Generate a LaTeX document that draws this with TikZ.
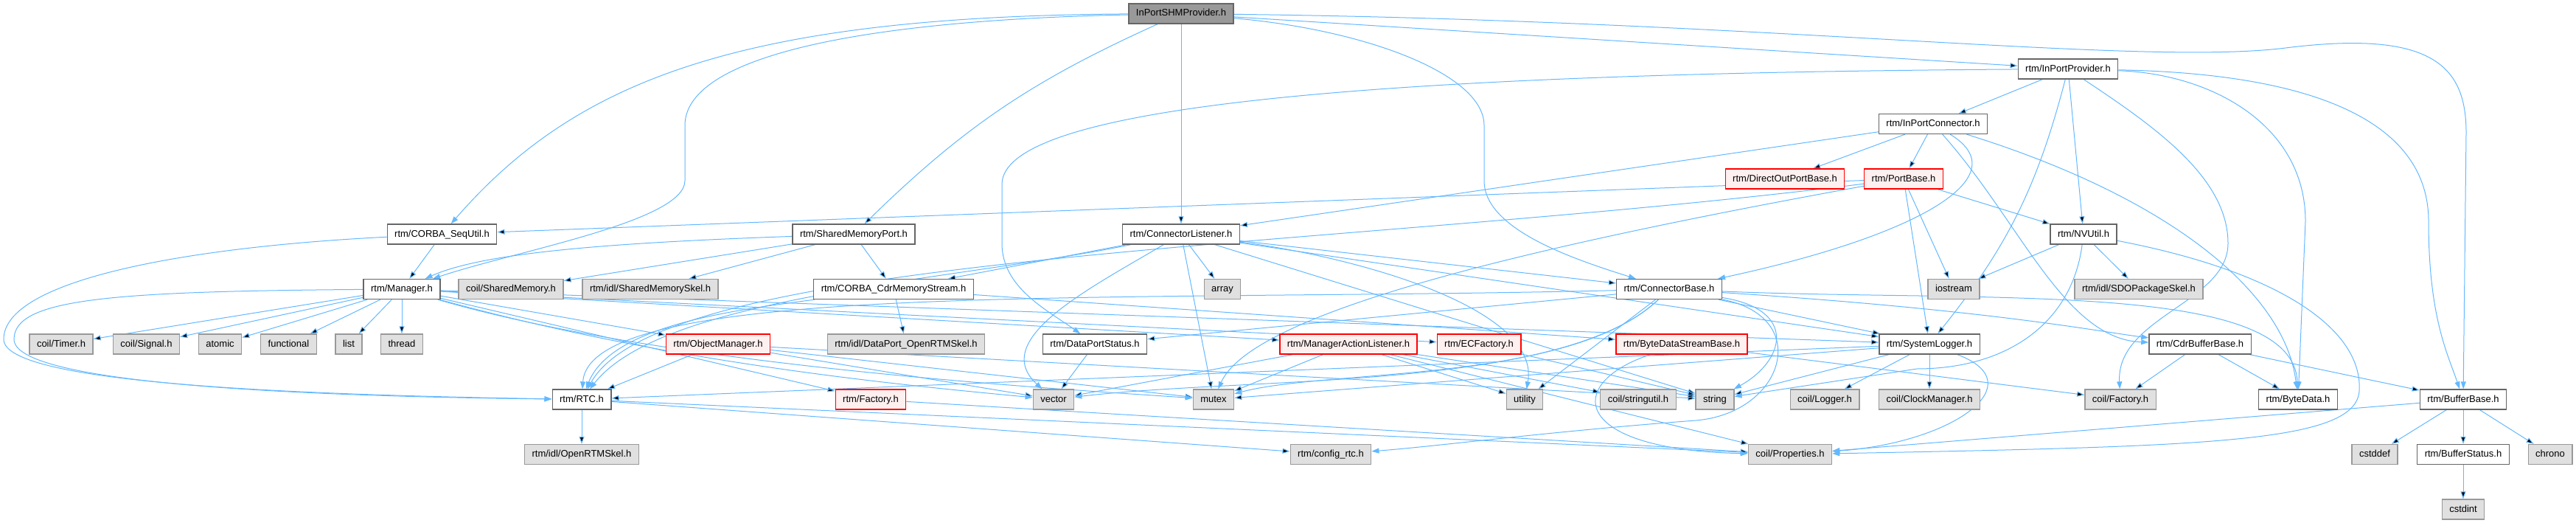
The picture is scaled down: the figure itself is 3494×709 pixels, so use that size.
\documentclass[tikz,border=0pt]{standalone}
\usepackage{fontspec}
\setmainfont{Liberation Sans}
\usetikzlibrary{arrows.meta, backgrounds}

\definecolor{edgeblue}{HTML}{63B8FF}
\definecolor{rootgray}{HTML}{999999}
\definecolor{boxgray}{HTML}{666666}
\definecolor{sysfill}{HTML}{E0E0E0}
\definecolor{sysline}{HTML}{999999}
\definecolor{cutfill}{HTML}{FFF0F0}

\begin{document}
\begin{tikzpicture}[x=1pt, y=-1pt, ->, >={Triangle[length=10pt, width=7pt]},
    hdr/.style={draw=boxgray, fill=white, line width=1.3pt, minimum height=27pt,
                inner xsep=10pt, inner ysep=0pt, text height=9.5pt, text depth=2.5pt,
                font=\fontsize{13}{15}\selectfont},
    roothdr/.style={hdr, fill=rootgray},
    syshdr/.style={hdr, draw=sysline, fill=sysfill},
    cuthdr/.style={hdr, draw=red, fill=cutfill},
    link/.style={draw=edgeblue, line width=1pt}]
    \useasboundingbox (0,0) rectangle (3494,709);

    % rows of header files
    \node[roothdr] (shm)       at (1602,18.5)  {InPortSHMProvider.h};
    \node[hdr]     (provider)  at (2805,93.5)  {rtm/InPortProvider.h};
    \node[hdr]     (inconn)    at (2622,168)   {rtm/InPortConnector.h};
    \node[cuthdr]  (directout) at (2421,242.5) {rtm/DirectOutPortBase.h};
    \node[cuthdr]  (portbase)  at (2582,242.5) {rtm/PortBase.h};
    \node[hdr]     (sequtil)   at (599.5,317.5) {rtm/CORBA\_SeqUtil.h};
    \node[hdr]     (shmport)   at (1158,317.5) {rtm/SharedMemoryPort.h};
    \node[hdr]     (listener)  at (1602,317.5) {rtm/ConnectorListener.h};
    \node[hdr]     (nvutil)    at (2826,317.5) {rtm/NVUtil.h};
    \node[hdr]     (manager)   at (545,392)    {rtm/Manager.h};
    \node[syshdr]  (shmem)     at (693,392)    {coil/SharedMemory.h};
    \node[syshdr]  (shmskel)   at (882,392)    {rtm/idl/SharedMemorySkel.h};
    \node[hdr]     (cdrstream) at (1212,392)   {rtm/CORBA\_CdrMemoryStream.h};
    \node[syshdr]  (array)     at (1658,392)   {array};
    \node[hdr]     (connbase)  at (2264,392)   {rtm/ConnectorBase.h};
    \node[syshdr]  (iostream)  at (2650,392)   {iostream};
    \node[syshdr]  (sdoskel)   at (2901,392)   {rtm/idl/SDOPackageSkel.h};
    \node[syshdr]  (timer)     at (83,466.5)   {coil/Timer.h};
    \node[syshdr]  (signal)    at (198.5,466.5) {coil/Signal.h};
    \node[syshdr]  (atomic)    at (298.5,466.5) {atomic};
    \node[syshdr]  (functional) at (391.5,466.5) {functional};
    \node[syshdr]  (list)      at (473,466.5)  {list};
    \node[syshdr]  (thread)    at (545,466.5)  {thread};
    \node[cuthdr]  (objmgr)    at (974,466.5)  {rtm/ObjectManager.h};
    \node[syshdr]  (dpskel)    at (1229,466.5) {rtm/idl/DataPort\_OpenRTMSkel.h};
    \node[hdr]     (dpstatus)  at (1485,466.5) {rtm/DataPortStatus.h};
    \node[cuthdr]  (malistener) at (1829,466.5) {rtm/ManagerActionListener.h};
    \node[cuthdr]  (ecfactory) at (2006,466.5) {rtm/ECFactory.h};
    \node[cuthdr]  (bdstream)  at (2281,466.5) {rtm/ByteDataStreamBase.h};
    \node[hdr]     (syslog)    at (2617,466.5) {rtm/SystemLogger.h};
    \node[hdr]     (cdrbuf)    at (2984,466.5) {rtm/CdrBufferBase.h};
    \node[hdr]     (rtc)       at (789,541.5)  {rtm/RTC.h};
    \node[cuthdr]  (factory)   at (1181,541.5) {rtm/Factory.h};
    \node[syshdr]  (vector)    at (1429,541.5) {vector};
    \node[syshdr]  (mutex)     at (1646,541.5) {mutex};
    \node[syshdr]  (utility)   at (2068,541.5) {utility};
    \node[syshdr]  (stringutil) at (2222,541.5) {coil/stringutil.h};
    \node[syshdr]  (string)    at (2326,541.5) {string};
    \node[syshdr]  (logger)    at (2475,541.5) {coil/Logger.h};
    \node[syshdr]  (clock)     at (2617,541.5) {coil/ClockManager.h};
    \node[syshdr]  (cfactory)  at (2876,541.5) {coil/Factory.h};
    \node[hdr]     (bytedata)  at (3117,541.5) {rtm/ByteData.h};
    \node[hdr]     (bufbase)   at (3341,541.5) {rtm/BufferBase.h};
    \node[syshdr]  (openrtm)   at (789,616)    {rtm/idl/OpenRTMSkel.h};
    \node[syshdr]  (config)    at (1805,616)   {rtm/config\_rtc.h};
    \node[syshdr]  (props)     at (2428,616)   {coil/Properties.h};
    \node[syshdr]  (cstddef)   at (3221,616)   {cstddef};
    \node[hdr]     (bufstatus) at (3341,616)   {rtm/BufferStatus.h};
    \node[syshdr]  (chrono)    at (3459,616)   {chrono};
    \node[syshdr]  (cstdint)   at (3341,690.5) {cstdint};

    \begin{scope}[on background layer]
    \draw[link]
        (shm) edge (listener)
        (shm) edge (provider)
        (shm) edge[bend right=10] (shmport)
        (provider) edge (inconn)
        (provider) edge (nvutil)
        (provider) edge[bend left=12] (syslog)
        (inconn) edge (directout)
        (inconn) edge (portbase)
        (inconn) edge (listener)
        (portbase) edge (sequtil)
        (portbase) edge (syslog)
        (portbase) edge (nvutil)
        (portbase) edge (iostream)
        (sequtil) edge (manager)
        (shmport) edge (shmem)
        (shmport) edge (shmskel)
        (shmport) edge (cdrstream)
        (listener) edge (cdrstream)
        (listener) edge (array)
        (listener) edge (mutex)
        (listener) edge (connbase)
        (listener) edge (syslog)
        (listener) edge (string)
        (nvutil) edge (iostream)
        (nvutil) edge (sdoskel)
        (manager) edge (timer)
        (manager) edge (signal)
        (manager) edge (atomic)
        (manager) edge (functional)
        (manager) edge (list)
        (manager) edge (thread)
        (manager) edge (objmgr)
        (manager) edge (factory)
        (manager) edge (malistener)
        (manager) edge (ecfactory)
        (manager) edge (syslog)
        (cdrstream) edge (dpskel)
        (cdrstream) edge (bdstream)
        (connbase) edge (dpstatus)
        (connbase) edge (utility)
        (connbase) edge (syslog)
        (objmgr) edge (rtc)
        (objmgr) edge (vector)
        (objmgr) edge (mutex)
        (objmgr) edge (string)
        (dpstatus) edge (vector)
        (malistener) edge (vector)
        (malistener) edge (mutex)
        (malistener) edge (utility)
        (malistener) edge (stringutil)
        (malistener) edge (string)
        (malistener) edge (props)
        (ecfactory) edge (string)
        (bdstream) edge (cfactory)
        (syslog) edge (logger)
        (syslog) edge (clock)
        (syslog) edge (string)
        (syslog) edge (mutex)
        (syslog) edge (rtc)
        (cdrbuf) edge (cfactory)
        (cdrbuf) edge (bytedata)
        (cdrbuf) edge (bufbase)
        (rtc) edge (openrtm)
        (rtc) edge (config)
        (rtc) edge (props)
        (factory) edge (props)
        (bufbase) edge (props)
        (bufbase) edge (cstddef)
        (bufbase) edge (bufstatus)
        (bufbase) edge (chrono)
        (bufstatus) edge (cstdint);

    % longer routed includes
    \draw[link] (shm) .. controls (1000,22) and (780,110) .. (sequtil);
    \draw[link] (shm) .. controls (1150,28) and (929,80) .. (929,170) -- (929,245) .. controls (929,300) and (700,340) .. (manager);
    \draw[link] (shm) .. controls (1850,40) and (2013,100) .. (2013,170) -- (2013,245) .. controls (2013,310) and (2130,350) .. (connbase);
    \draw[link] (shm) .. controls (2400,28) and (2900,90) .. (3100,65) .. controls (3300,40) and (3345,90) .. (3345,180) -- (bufbase);
    \draw[link] (provider) .. controls (1800,100) and (1359,150) .. (1359,250) -- (1359,330) .. controls (1359,390) and (1420,420) .. (dpstatus);
    \draw[link] (provider) .. controls (3150,100) and (3294,170) .. (3294,300) .. controls (3294,430) and (3320,480) .. (bufbase);
    \draw[link] (provider) .. controls (3000,100) and (3127,170) .. (3127,300) -- (bytedata);
    \draw[link] (provider) .. controls (2920,170) and (3022,240) .. (3022,330) .. controls (3022,410) and (2870,430) .. (cfactory);
    \draw[link] (inconn) .. controls (2740,240) and (2600,320) .. (connbase);
    \draw[link] (inconn) .. controls (2950,270) and (3100,400) .. (bytedata);
    \draw[link] (inconn) .. controls (2740,300) and (2800,460) .. (cdrbuf);
    \draw[link] (portbase) .. controls (1800,340) and (900,340) .. (rtc);
    \draw[link] (portbase) .. controls (2100,330) and (1700,420) .. (mutex);
    \draw[link] (sequtil) .. controls (250,335) and (5,380) .. (5,460) .. controls (5,520) and (400,535) .. (rtc);
    \draw[link] (manager) .. controls (150,395) and (19,405) .. (19,460) .. controls (19,520) and (400,537) .. (rtc);
    \draw[link] (shmport) .. controls (800,330) and (650,345) .. (manager);
    \draw[link] (listener) .. controls (1480,390) and (1340,460) .. (vector);
    \draw[link] (listener) .. controls (1300,380) and (900,400) .. (rtc);
    \draw[link] (listener) .. controls (1850,350) and (2090,420) .. (utility);
    \draw[link] (nvutil) .. controls (2810,440) and (2720,500) .. (2600,500) -- (string);
    \draw[link] (nvutil) .. controls (3100,370) and (3205,450) .. (3200,530) .. controls (3195,600) and (3000,605) .. (props);
    \draw[link] (manager) .. controls (900,490) and (1200,520) .. (vector);
    \draw[link] (manager) .. controls (900,495) and (1400,525) .. (mutex);
    \draw[link] (cdrstream) .. controls (1000,420) and (830,440) .. (rtc);
    \draw[link] (connbase) .. controls (1500,410) and (800,380) .. (rtc);
    \draw[link] (connbase) .. controls (2120,530) and (1700,510) .. (vector);
    \draw[link] (connbase) .. controls (2130,520) and (1800,500) .. (mutex);
    \draw[link] (connbase) .. controls (2700,410) and (3110,380) .. (bytedata);
    \draw[link] (connbase) .. controls (2700,420) and (2850,450) .. (cdrbuf);
    \draw[link] (connbase) .. controls (2440,420) and (2420,490) .. (string);
    \draw[link] (connbase) .. controls (2460,430) and (2420,560) .. (2300,570) .. controls (2100,585) and (1950,605) .. (config);
    \draw[link] (syslog) .. controls (2760,520) and (2650,600) .. (props);
    \draw[link] (bdstream) .. controls (2120,520) and (2130,610) .. (props);
    \end{scope}
\end{tikzpicture}
\end{document}
